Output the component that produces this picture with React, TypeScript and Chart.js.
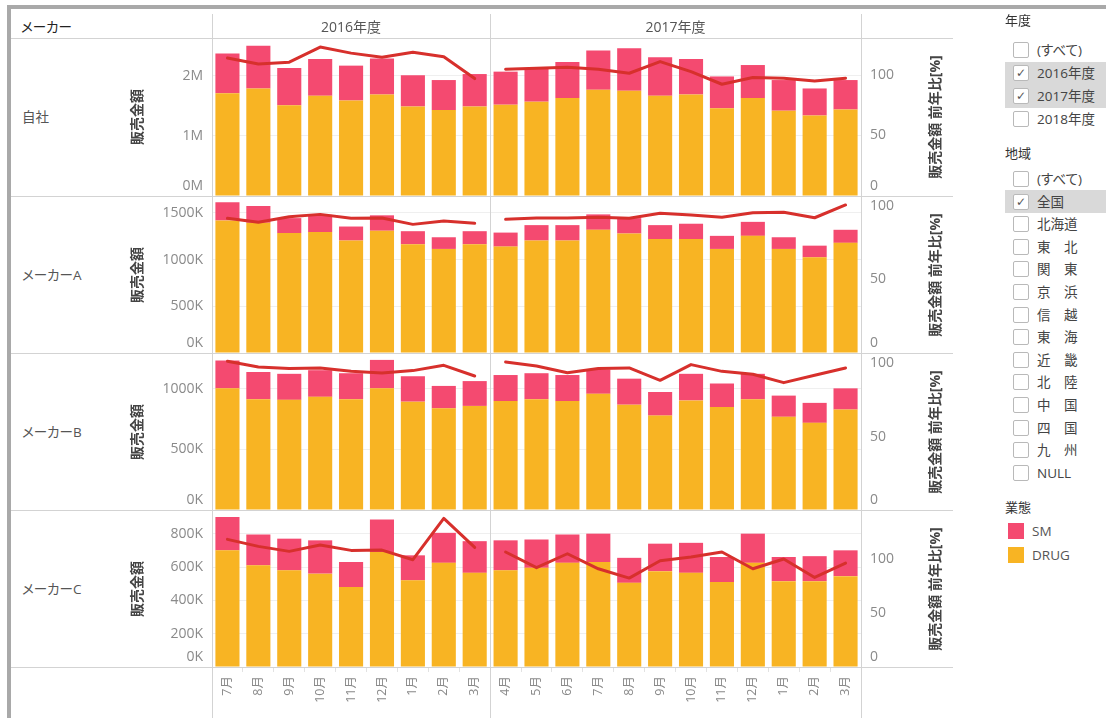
import React, { useEffect, useRef } from "react";
import { Chart, registerables } from "chart.js";

Chart.register(...registerables);

// ---------- data ----------
const fy2016Months = ["7月", "8月", "9月", "10月", "11月", "12月", "1月", "2月", "3月"];
const fy2017Months = ["4月", "5月", "6月", "7月", "8月", "9月", "10月", "11月", "12月", "1月", "2月", "3月"];
const categories = [...fy2016Months, ...fy2017Months];

const yearHeaders = ["2016年度", "2017年度"];
const makerNames = ["自社", "メーカーA", "メーカーB", "メーカーC"];

// sales in thousands (K)
const jishaDrug = [1710, 1790, 1510, 1670, 1590, 1690, 1490, 1430, 1490, 1520, 1570, 1630, 1770, 1750, 1670, 1690, 1460, 1630, 1420, 1340, 1440];
const jishaSM = [660, 710, 620, 610, 580, 600, 520, 500, 540, 550, 560, 600, 650, 710, 640, 590, 530, 550, 510, 450, 490];
const jishaRatio2016 = [114, 109, 110.5, 123, 118, 114.6, 118.8, 115, 97];
const jishaRatio2017 = [104.7, 105.5, 106.4, 104.7, 101.4, 111, 102.7, 92.3, 97.8, 97.3, 95, 97.3];

const aDrug = [1420, 1395, 1285, 1295, 1205, 1310, 1165, 1115, 1165, 1140, 1205, 1205, 1320, 1280, 1220, 1220, 1115, 1255, 1115, 1025, 1180];
const aSM = [195, 180, 160, 185, 150, 165, 140, 125, 140, 150, 165, 165, 165, 165, 150, 165, 140, 150, 125, 125, 140];
const aRatio2016 = [91.6, 88.9, 92.7, 94.3, 91.6, 91.8, 87.5, 89.8, 88.2];
const aRatio2017 = [90.9, 91.8, 91.8, 92.3, 91.6, 95, 93.9, 92.3, 95.4, 95.7, 92, 100.7];

const bDrug = [1005, 915, 910, 935, 915, 1005, 895, 840, 860, 900, 915, 900, 960, 870, 780, 905, 850, 915, 770, 720, 830];
const bSM = [230, 225, 215, 220, 215, 235, 210, 185, 205, 215, 215, 215, 200, 215, 195, 220, 195, 210, 175, 165, 175];
const bRatio2016 = [101.4, 97.5, 96.4, 96.8, 94.5, 93.4, 95, 98.6, 91.3];
const bRatio2017 = [100.9, 98.2, 93.6, 96.4, 96.8, 88.4, 99.1, 94.5, 92.5, 86.8, 91.8, 96.8];

const cDrug = [700, 610, 580, 560, 480, 690, 520, 625, 565, 580, 595, 625, 630, 505, 575, 565, 510, 625, 515, 515, 545];
const cSM = [200, 185, 190, 200, 150, 195, 150, 180, 190, 180, 170, 170, 170, 150, 165, 180, 150, 175, 145, 150, 155];
const cRatio2016 = [117.9, 111.4, 106.8, 112.7, 107.7, 108, 99.1, 137.3, 110.5];
const cRatio2017 = [106.2, 91.7, 104.6, 90.7, 82.1, 98.1, 101.5, 106.2, 90.7, 99.7, 82.7, 96];

// tick values / labels
const jishaTicks = [0, 1000, 2000];
const jishaTickLabels = ["0M", "1M", "2M"];
const aTicks = [0, 500, 1000, 1500];
const aTickLabels = ["0K", "500K", "1000K", "1500K"];
const bTicks = [0, 500, 1000];
const bTickLabels = ["0K", "500K", "1000K"];
const cTicks = [0, 200, 400, 600, 800];
const cTickLabels = ["0K", "200K", "400K", "600K", "800K"];
const ratioTicks = [0, 50, 100];
const ratioTickLabels = ["0", "50", "100"];

// axis maxima
const leftMaxes = [2630, 1682, 1297, 942];
const rightMaxes = [130.5, 106.8, 107, 145];

// filters / legend
const yearFilterItems = ["(すべて)", "2016年度", "2017年度", "2018年度"];
const yearFilterChecked = [false, true, true, false];
const regionFilterItems = ["(すべて)", "全国", "北海道", "東　北", "関　東", "京　浜", "信　越", "東　海", "近　畿", "北　陸", "中　国", "四　国", "九　州", "NULL"];
const regionFilterChecked = [false, true, false, false, false, false, false, false, false, false, false, false, false, false];
const businessTypes = ["SM", "DRUG"];

// ---------- styles ----------
const FONT = "'Open Sans', 'Noto Sans CJK JP', sans-serif";
const SM_COLOR = "#f44a70";
const DRUG_COLOR = "#f8b423";
const LINE_COLOR = "#d7302c";
const TICK_COLOR = "#8a8a8a";
const RULE = "#d3d3d3";

const nulls = (n: number) => Array(n).fill(null);

type RowSpec = {
  top: number;
  h: number;
  drug: number[];
  sm: number[];
  r16: number[];
  r17: number[];
  leftTicks: number[];
  leftLabels: string[];
  leftMax: number;
  rightMax: number;
  showX: boolean;
};

const rows: RowSpec[] = [
  { top: 38, h: 158, drug: jishaDrug, sm: jishaSM, r16: jishaRatio2016, r17: jishaRatio2017, leftTicks: jishaTicks, leftLabels: jishaTickLabels, leftMax: leftMaxes[0], rightMax: rightMaxes[0], showX: false },
  { top: 196, h: 157, drug: aDrug, sm: aSM, r16: aRatio2016, r17: aRatio2017, leftTicks: aTicks, leftLabels: aTickLabels, leftMax: leftMaxes[1], rightMax: rightMaxes[1], showX: false },
  { top: 353, h: 157, drug: bDrug, sm: bSM, r16: bRatio2016, r17: bRatio2017, leftTicks: bTicks, leftLabels: bTickLabels, leftMax: leftMaxes[2], rightMax: rightMaxes[2], showX: false },
  { top: 510, h: 157, drug: cDrug, sm: cSM, r16: cRatio2016, r17: cRatio2017, leftTicks: cTicks, leftLabels: cTickLabels, leftMax: leftMaxes[3], rightMax: rightMaxes[3], showX: true },
];

const X_AXIS_H = 51;

function RowChart({ spec }: { spec: RowSpec }) {
  const ref = useRef<HTMLCanvasElement>(null);
  const canvasH = spec.h + (spec.showX ? X_AXIS_H : 0);
  useEffect(() => {
    const n16 = fy2016Months.length;
    const n17 = fy2017Months.length;
    const zeroPad = (s: any) => {
      s.paddingTop = 0;
      s.paddingBottom = 0;
      s.paddingLeft = 0;
      s.paddingRight = 0;
    };
    const tickFont = { family: FONT, size: 14, lineHeight: 1.45 };
    const lineDs = (label: string, data: (number | null)[]) =>
      ({
        type: "line",
        label,
        data,
        yAxisID: "yR",
        borderColor: LINE_COLOR,
        borderWidth: 3,
        pointRadius: 0,
        borderJoinStyle: "round",
        borderCapStyle: "round",
        spanGaps: false,
        tension: 0,
        order: 0,
      } as any);
    const chart = new Chart(ref.current!, {
      type: "bar",
      data: {
        labels: categories,
        datasets: [
          lineDs("前年比 2016", [...spec.r16, ...nulls(n17)]),
          lineDs("前年比 2017", [...nulls(n16), ...spec.r17]),
          {
            label: "DRUG",
            data: spec.drug,
            backgroundColor: DRUG_COLOR,
            borderWidth: 0,
            yAxisID: "yL",
            stack: "s",
            barPercentage: 1,
            categoryPercentage: 0.78,
            order: 1,
          },
          {
            label: "SM",
            data: spec.sm,
            backgroundColor: SM_COLOR,
            borderWidth: 0,
            yAxisID: "yL",
            stack: "s",
            barPercentage: 1,
            categoryPercentage: 0.78,
            order: 1,
          },
        ],
      },
      options: {
        animation: false,
        responsive: false,
        maintainAspectRatio: false,
        layout: { padding: 0 },
        plugins: { legend: { display: false }, tooltip: { enabled: false } },
        scales: {
          x: {
            type: "category",
            stacked: true,
            display: spec.showX,
            offset: true,
            grid: { offset: true, drawOnChartArea: false, drawTicks: true, tickLength: 5, color: "#e2e2e2" },
            border: { display: false },
            ticks: {
              autoSkip: false,
              minRotation: 90,
              maxRotation: 90,
              color: TICK_COLOR,
              padding: 4,
              font: { family: FONT, size: 12.5 },
            },
            afterFit: (s: any) => {
              s.height = spec.showX ? X_AXIS_H : 0;
              zeroPad(s);
            },
          },
          yL: {
            type: "linear",
            position: "left",
            stacked: true,
            min: 0,
            max: spec.leftMax,
            afterBuildTicks: (s: any) => {
              s.ticks = spec.leftTicks.map((v) => ({ value: v }));
            },
            ticks: {
              autoSkip: false,
              color: TICK_COLOR,
              padding: 9,
              font: tickFont,
              callback: (_v: any, i: number) => (i === 0 ? [spec.leftLabels[i], ""] : spec.leftLabels[i]),
            },
            grid: { color: "#efefef", drawTicks: false, lineWidth: 1 },
            border: { display: false },
            afterFit: (s: any) => {
              s.width = 112;
              zeroPad(s);
            },
          },
          yR: {
            type: "linear",
            position: "right",
            min: 0,
            max: spec.rightMax,
            afterBuildTicks: (s: any) => {
              s.ticks = ratioTicks.map((v) => ({ value: v }));
            },
            ticks: {
              autoSkip: false,
              color: TICK_COLOR,
              padding: 9,
              font: tickFont,
              callback: (_v: any, i: number) => (i === 0 ? [ratioTickLabels[i], ""] : ratioTickLabels[i]),
            },
            grid: { display: false, drawTicks: false },
            border: { display: false },
            afterFit: (s: any) => {
              s.width = 99;
              zeroPad(s);
            },
          },
        },
      } as any,
    });
    return () => chart.destroy();
  }, []);
  return (
    <canvas
      ref={ref}
      width={860}
      height={canvasH}
      style={{ position: "absolute", left: 100, top: spec.top, width: 860, height: canvasH }}
    />
  );
}

const abs = (o: React.CSSProperties): React.CSSProperties => ({ position: "absolute", ...o });

function Checkbox({ y, label, checked }: { y: number; label: string; checked: boolean }) {
  return (
    <>
      {checked && <div style={abs({ left: 1005, top: y - 11.5, width: 101, height: 23, background: "#d9d9d9" })} />}
      <div
        style={abs({
          left: 1013,
          top: y - 8,
          width: 14,
          height: 14,
          border: "1px solid #b9b9b9",
          background: "#fff",
          borderRadius: 2,
          fontSize: 12,
          lineHeight: "14px",
          textAlign: "center",
          color: "#555",
          fontFamily: "'DejaVu Sans', sans-serif",
        })}
      >
        {checked ? "✓" : ""}
      </div>
      <div style={abs({ left: 1037, top: y - 10, height: 20, lineHeight: "20px", fontSize: 13.5, color: "#444", whiteSpace: "nowrap" })}>
        {label}
      </div>
    </>
  );
}

export default function App() {
  const rowCenters = rows.map((r) => r.top + r.h / 2);
  const hLines = [38, 196, 353, 510, 667];
  const vLines = [212, 490, 861];
  const yearSpacing = 23;
  const regionSpacing = 22.6;
  const titleStyle = (top: number) =>
    abs({ left: 1005, top, height: 18, lineHeight: "18px", fontSize: 13, color: "#333" });
  return (
    <div
      style={{
        position: "fixed",
        left: 0,
        top: 0,
        width: 1106,
        height: 718,
        background: "#fff",
        overflow: "hidden",
        fontFamily: FONT,
        fontFeatureSettings: '"palt"',
      }}
    >
      {rows.map((r, i) => (
        <RowChart key={i} spec={r} />
      ))}

      {/* frame */}
      <div style={abs({ left: 7, top: 5, width: 1099, height: 4, background: "#a9a9a9" })} />
      <div style={abs({ left: 7, top: 5, width: 4, height: 713, background: "#a9a9a9" })} />
      {hLines.map((y) => (
        <div key={"h" + y} style={abs({ left: 11, top: y, width: 942, height: 1, background: RULE })} />
      ))}
      {vLines.map((x) => (
        <div key={"v" + x} style={abs({ left: x, top: 14, width: 1, height: 704, background: RULE })} />
      ))}

      {/* headers */}
      <div style={abs({ left: 21, top: 18, height: 18, lineHeight: "18px", fontSize: 13.5, color: "#222" })}>メーカー</div>
      <div style={abs({ left: 212, top: 18, width: 278, height: 18, lineHeight: "18px", fontSize: 14, color: "#555", textAlign: "center" })}>
        {yearHeaders[0]}
      </div>
      <div style={abs({ left: 490, top: 18, width: 371, height: 18, lineHeight: "18px", fontSize: 14, color: "#555", textAlign: "center" })}>
        {yearHeaders[1]}
      </div>

      {/* row labels and axis titles */}
      {makerNames.map((m, i) => (
        <React.Fragment key={m}>
          <div style={abs({ left: 22, top: rowCenters[i] - 9, height: 18, lineHeight: "18px", fontSize: 13.5, color: "#555", whiteSpace: "nowrap" })}>
            {m}
          </div>
          <div
            style={abs({
              left: 137,
              top: rowCenters[i],
              transform: "translate(-50%, -50%) rotate(-90deg)",
              fontSize: 14,
              fontWeight: "bold",
              color: "#444",
              whiteSpace: "nowrap",
              lineHeight: "16px",
            })}
          >
            販売金額
          </div>
          <div
            style={abs({
              left: 935,
              top: rowCenters[i],
              transform: "translate(-50%, -50%) rotate(-90deg)",
              fontSize: 14,
              fontWeight: "bold",
              color: "#444",
              whiteSpace: "nowrap",
              lineHeight: "16px",
            })}
          >
            販売金額 前年比[%]
          </div>
        </React.Fragment>
      ))}

      {/* filter panel */}
      <div style={titleStyle(11)}>年度</div>
      {yearFilterItems.map((t, i) => (
        <Checkbox key={"y" + i} y={50 + i * yearSpacing} label={t} checked={yearFilterChecked[i]} />
      ))}
      <div style={titleStyle(144)}>地域</div>
      {regionFilterItems.map((t, i) => (
        <Checkbox key={"r" + i} y={179 + i * regionSpacing} label={t} checked={regionFilterChecked[i]} />
      ))}
      <div style={titleStyle(498)}>業態</div>
      {businessTypes.map((t, i) => (
        <React.Fragment key={t}>
          <div style={abs({ left: 1008, top: 523 + i * 24, width: 16, height: 16, background: i === 0 ? SM_COLOR : DRUG_COLOR })} />
          <div style={abs({ left: 1032, top: 522 + i * 24, height: 18, lineHeight: "18px", fontSize: 13.5, color: "#555" })}>{t}</div>
        </React.Fragment>
      ))}
    </div>
  );
}
